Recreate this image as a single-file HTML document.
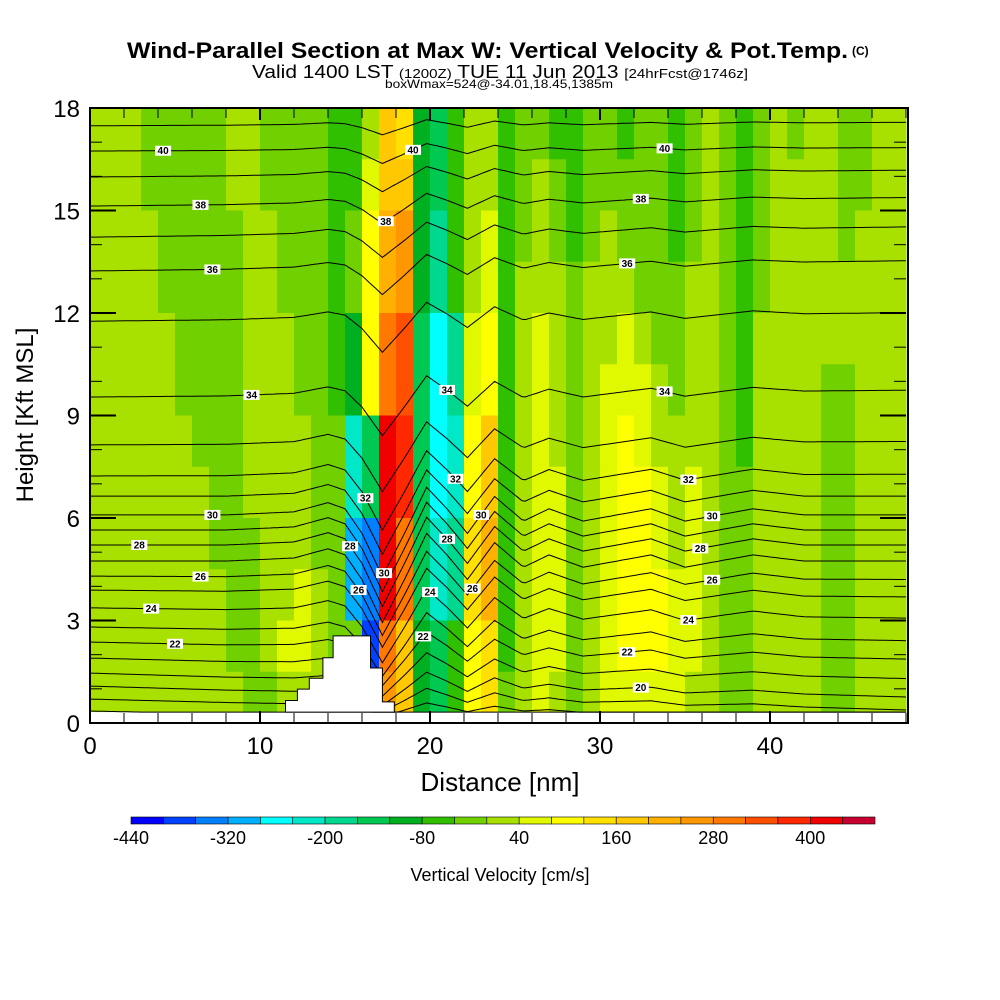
<!DOCTYPE html>
<html><head><meta charset="utf-8"><style>
html,body{margin:0;padding:0;background:#fff;}
svg{display:block;font-family:"Liberation Sans",Arial,sans-serif;}
</style></head><body>
<svg id="chart" width="1000" height="1000" viewBox="0 0 1000 1000" xmlns="http://www.w3.org/2000/svg">
<rect x="0" y="0" width="1000" height="1000" fill="#fff"/>
<text x="127" y="58" font-size="22" font-weight="bold" textLength="721" lengthAdjust="spacingAndGlyphs">Wind-Parallel Section at Max W: Vertical Velocity &amp; Pot.Temp.</text>
<text x="852" y="55" font-size="12" font-weight="bold">(C)</text>
<text x="252" y="78" font-size="18" textLength="496" lengthAdjust="spacingAndGlyphs">Valid 1400 LST <tspan font-size="13">(1200Z)</tspan> TUE 11 Jun 2013 <tspan font-size="13">[24hrFcst@1746z]</tspan></text>
<text x="385" y="88" font-size="12" textLength="228" lengthAdjust="spacingAndGlyphs">boxWmax=524@-34.01,18.45,1385m</text>
<g id="field"></g>
<g id="contours"></g>
<g id="terrain"></g>
<g id="labels"></g>
<g id="axes"></g>
<text x="500" y="791" font-size="26" text-anchor="middle">Distance [nm]</text>
<text transform="translate(33,415) rotate(-90)" font-size="24" text-anchor="middle">Height [Kft MSL]</text>
<g id="colorbar"></g>
<text x="500" y="881" font-size="18" text-anchor="middle">Vertical Velocity [cm/s]</text>
</svg>
<script>
// ---------- data ----------
const palette = ["#0000ff","#0040ff","#0080ff","#00b0ff","#00ffff","#00e8c8","#00d890","#00c850","#00b020","#30c000","#70d000","#a8e000","#e0f800","#ffff00","#ffe000","#ffc800","#ffb000","#ff9800","#ff7800","#ff5000","#ff2800","#f00000","#c80030"];
const cbTicks = [-440,-320,-200,-80,40,160,280,400];
// vertical velocity class per cell: rows top (16.5-18 kft) to bottom, columns 1 nm
const fieldRows = [
"LLLKKKKKLLKKKK"+"JJLPOIHJLL"+"JKKJJKKJKKJKLKJKLKLLKKLL",
"LLLKKKKKLLKKKK"+"JJMPPIHJLL"+"JKLKJKKKKKJKLKJKLLLLKKLL",
"LLLLKKKKKLLKKK"+"JKNQRIGJLM"+"JKLKJKLKKKJKLKJKLLLLKLLL",
"LLLLKKKKKLLKKK"+"JKNQRIGJLM"+"JLLLKLLLKKKLLKJKLLLLLLLL",
"LLLLLKKKKLLLKK"+"JINSTHEGMN"+"JLMLKLLMLKKLLKJLLLLLLLLL",
"LLLLLKKKKLLLKK"+"JINSTHEGMN"+"JLMLKLMMMLKLLKJLLLLKKLLL",
"LLLLLLKKKLLLLK"+"KFHVUHEFNP"+"JLMLKLMNMLLLLKJLLLLKKLLL",
"LLLLLLLKKLLLLK"+"KFHVUHEFNP"+"JLMMKLMNNMLMLKKLLLLKKLLL",
"LLLLLLLKKKLLLK"+"KDCVSHFGOQ"+"JLMMKLMNNMLMLKKLLLLKKLLL",
"LLLLLLLLKKLLML"+"KDCVSHFGOQ"+"JLMMKLMNNNMMLKKLLLLKKLLL",
"LLLLLLLLKKLMML"+"KKBSPIHJNO"+"JLMMKLMNNNMMLKKLLLLKKLLL",
"LLLLLLLLLKKLLL"+"KKKRPIHJNO"+"KLMLKLMMMMMLLKKLLLLKKLLL"
];
const thetaLevels = [17,18,19,20,21,22,23,24,25,26,27,28,29,30,31,32,33,34,35,36,37,38,39,40,41];
const thetaLeft   = [0.35,0.70,1.08,1.46,1.90,2.37,2.81,3.37,3.89,4.30,4.74,5.21,5.65,6.09,6.64,7.23,8.14,9.54,11.76,13.23,14.22,15.13,15.98,16.74,17.48];
const thetaDelta  = [-0.5,-0.6,-0.7,-0.7,-0.6,-0.5,-0.4,-0.3,-0.2,-0.1,0,0,0,0,0,0.05,0.1,0.2,0.25,0.3,0.3,0.25,0.2,0.1,0.1];
const thetaAmp    = [0.2,0.3,0.5,0.7,0.9,1.1,1.3,1.5,1.6,1.7,1.8,1.8,1.8,1.8,1.7,1.6,1.4,1.2,1.0,0.8,0.7,0.6,0.5,0.4,0.3];
const waveX     = [0,8,12,14,15,16,17.2,18.5,19.8,21,22.2,23.8,25.5,27,29,31,33,35,37,39,42,45,48];
const waveShape = [0,0,0.05,0.2,0.1,-0.3,-1,-0.3,0.45,0.1,-0.3,0.3,-0.1,0.1,-0.1,0,0.1,-0.1,0,0.1,0,0,0];
const labelLevels = [40,38,36,34,30,28,26,24,22,40,38,34,32,32,30,30,28,28,26,26,24,22,40,38,36,34,32,30,28,26,24,22,20];
const labelXs     = [4.3,6.5,7.2,9.5,7.2,2.9,6.5,3.6,5,19,17.4,21,16.2,21.5,17.3,23,15.3,21,15.8,22.5,20,19.6,33.8,32.4,31.6,33.8,35.2,36.6,35.9,36.6,35.2,31.6,32.4];
const terrainX = [11.5,11.5,12.2,12.2,12.9,12.9,13.7,13.7,14.3,14.3,16.5,16.5,17.2,17.2,17.9,17.9];
const terrainH = [0.32,0.66,0.66,0.99,0.99,1.31,1.31,1.91,1.91,2.55,2.55,1.61,1.61,0.62,0.62,0.32];
const xTicks = [0,10,20,30,40];
const yTicks = [0,3,6,9,12,15,18];

// ---------- axes functions ----------
const X0=90,X1=906,Y0=723,Y1=108;
const X = v => X0 + v*(X1-X0)/48;
const Y = v => Y0 - v*(Y0-Y1)/18;
const NS="http://www.w3.org/2000/svg";
function mk(tag, parent){const e=document.createElementNS(NS,tag);parent.appendChild(e);return e;}
function interp(xs, ys, x){ if(x<=xs[0])return ys[0]; for(let i=1;i<xs.length;i++){ if(x<=xs[i]){const t=(x-xs[i-1])/(xs[i]-xs[i-1]);return ys[i-1]+t*(ys[i]-ys[i-1]);} } return ys[ys.length-1]; }
function thetaHeight(k, x){ return thetaLeft[k] + thetaDelta[k]*x/48 + thetaAmp[k]*interp(waveX,waveShape,x); }

// ---------- field ----------
const field=document.getElementById('field');
const nRows=fieldRows.length, rowH=18/nRows;
fieldRows.forEach((row,r)=>{
  for(let c=0;c<48;c++){
    const ch=row[c]||row[row.length-1];
    const idx=ch.charCodeAt(0)-65;
    const rc=mk('rect',field);
    
    
    const top=18-r*rowH;
    rc.setAttribute('x',X(c)); rc.setAttribute('y',Y(top));
    rc.setAttribute('width',X(c+1)-X(c)+0.6); rc.setAttribute('height',Y(top-rowH)-Y(top)+0.6);
    rc.setAttribute('fill',palette[Math.max(0,Math.min(22,idx))]);
  }
});
// white bottom strip
const strip=mk('rect',field);


strip.setAttribute('x',X0);strip.setAttribute('y',Y(0.32));strip.setAttribute('width',X1-X0);strip.setAttribute('height',Y0-Y(0.32));strip.setAttribute('fill','#fff');

// ---------- contours ----------
const cg=document.getElementById('contours');
thetaLevels.forEach((lv,k)=>{
  const pts=[];
  for(let x=0;x<=48.001;x+=0.2){ let h=thetaHeight(k,x); h=Math.max(0.32,Math.min(18,h)); pts.push(X(x).toFixed(1)+','+Y(h).toFixed(1)); }
  const pl=mk('polyline',cg);
  
  
  pl.setAttribute('points',pts.join(' '));
  pl.setAttribute('fill','none');pl.setAttribute('stroke','#000');pl.setAttribute('stroke-width','1');
});

// ---------- terrain ----------
const tg=document.getElementById('terrain');
const tp=[];
terrainX.forEach((x,i)=>tp.push(X(x)+','+Y(terrainH[i])));
const poly=mk('polygon',tg);


poly.setAttribute('points',tp.join(' '));
poly.setAttribute('fill','#fff');poly.setAttribute('stroke','#000');poly.setAttribute('stroke-width','1');

// ---------- labels ----------
const lg=document.getElementById('labels');
labelLevels.forEach((lv,i)=>{
  const k=thetaLevels.indexOf(lv); const x=labelXs[i];
  const cx=X(x), cy=Y(thetaHeight(k,x));
  const r=mk('rect',lg);
  
  
  r.setAttribute('x',cx-8);r.setAttribute('y',cy-5);r.setAttribute('width',16);r.setAttribute('height',10);r.setAttribute('fill','#fff');
  const t=mk('text',lg);
  
  
  t.setAttribute('x',cx);t.setAttribute('y',cy+3.5);t.setAttribute('font-size','10');t.setAttribute('font-weight','bold');t.setAttribute('text-anchor','middle');
  t.textContent=lv;
});

// ---------- axes ----------
const ag=document.getElementById('axes');
const frame=mk('rect',ag);


frame.setAttribute('x',X0);frame.setAttribute('y',Y1);frame.setAttribute('width',X1-X0+2);frame.setAttribute('height',Y0-Y1);
frame.setAttribute('fill','none');frame.setAttribute('stroke','#000');frame.setAttribute('stroke-width','2');
function line(x1,y1,x2,y2,w){const l=mk('line',ag);l.setAttribute('x1',x1);l.setAttribute('y1',y1);l.setAttribute('x2',x2);l.setAttribute('y2',y2);l.setAttribute('stroke','#000');l.setAttribute('stroke-width',w);}
for(let v=0;v<=48;v+=2){const major=v%10===0;const len=major?12:10;line(X(v),Y0,X(v),Y0-len,major?2:1);line(X(v),Y1,X(v),Y1+len,major?2:1);}
for(let v=0;v<=18;v+=1){const major=v%3===0;const len=major?26:12;line(X0,Y(v),X0+len,Y(v),major?2:1);line(X1,Y(v),X1-len,Y(v),major?2:1);}
xTicks.forEach(v=>{const t=mk('text',ag);t.setAttribute('x',X(v));t.setAttribute('y',754);t.setAttribute('font-size','24');t.setAttribute('text-anchor','middle');t.textContent=v;});
yTicks.forEach(v=>{const t=mk('text',ag);t.setAttribute('x',80);t.setAttribute('y',Y(v)+9);t.setAttribute('font-size','24');t.setAttribute('text-anchor','end');t.textContent=v;});

// ---------- colorbar ----------
const cb=document.getElementById('colorbar');
const CB0=131,CB1=875,CBW=(CB1-CB0)/palette.length;
palette.forEach((c,i)=>{const r=mk('rect',cb);r.setAttribute('x',CB0+i*CBW);r.setAttribute('y',817);r.setAttribute('width',CBW);r.setAttribute('height',7);r.setAttribute('fill',c);r.setAttribute('stroke','#000');r.setAttribute('stroke-width','0.6');});
cbTicks.forEach(v=>{const i=(v+440)/40;const t=mk('text',cb);t.setAttribute('x',CB0+i*CBW);t.setAttribute('y',844);t.setAttribute('font-size','18');t.setAttribute('text-anchor','middle');t.textContent=v;});
</script>
</body></html>
